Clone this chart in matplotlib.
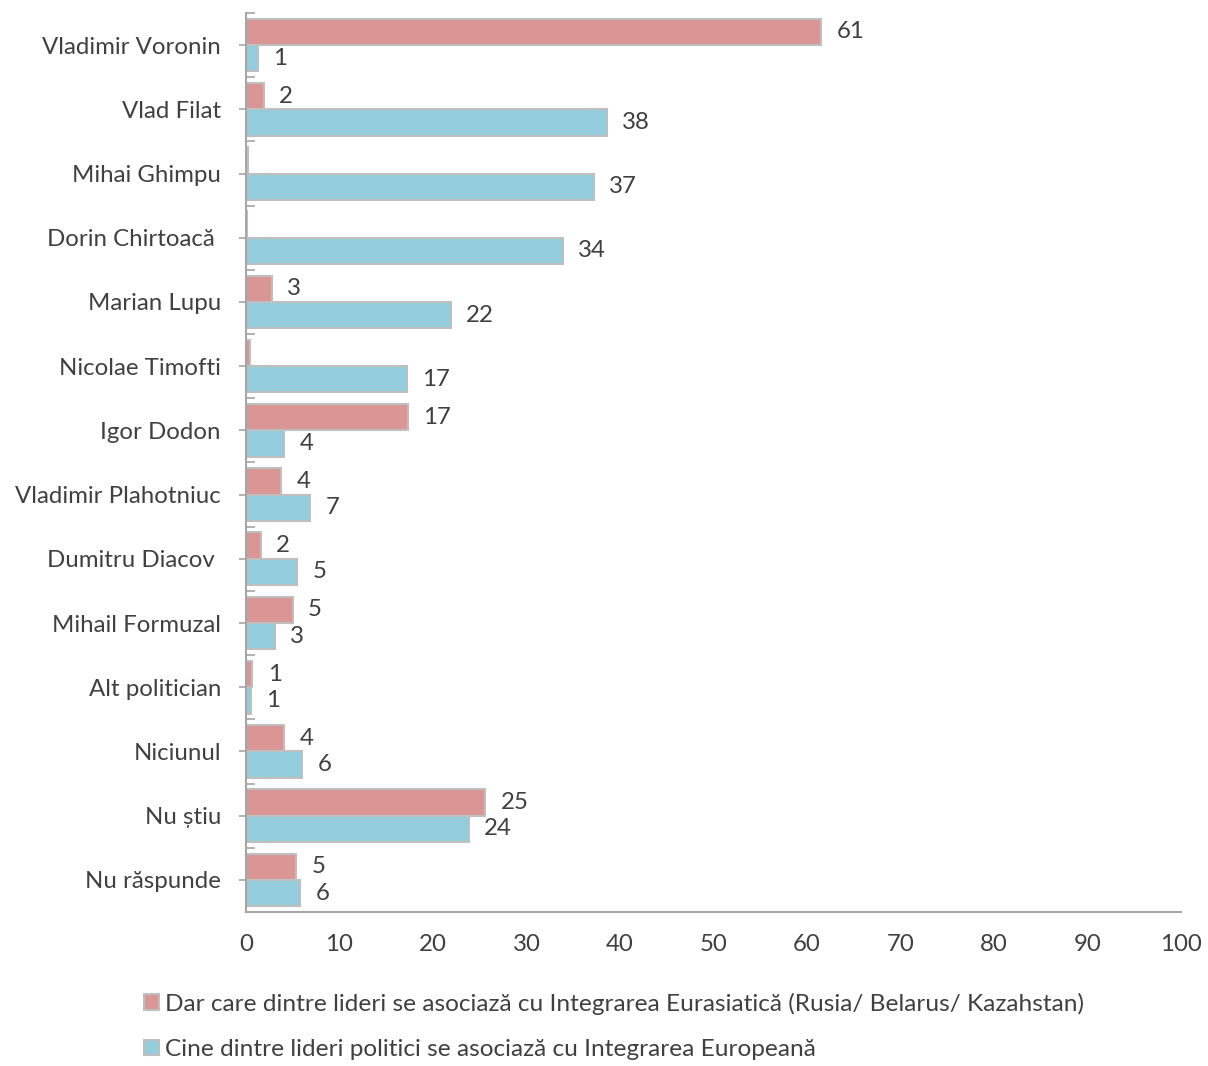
import matplotlib.pyplot as plt
import numpy as np

lideri = ["Vladimir Voronin", "Vlad Filat", "Mihai Ghimpu", "Dorin Chirtoacă ",
          "Marian Lupu", "Nicolae Timofti", "Igor Dodon", "Vladimir Plahotniuc",
          "Dumitru Diacov ", "Mihail Formuzal", "Alt politician", "Niciunul",
          "Nu știu", "Nu răspunde"]
eurasia = [61.5, 1.9, 0.2, 0.1, 2.8, 0.4, 17.3, 3.8, 1.6, 5.0, 0.7, 4.1, 25.6, 5.4]
europa = [1.3, 38.6, 37.2, 33.9, 21.9, 17.2, 4.1, 6.9, 5.5, 3.1, 0.5, 6.0, 23.8, 5.8]
etichete_eurasia = ["61", "2", "", "", "3", "", "17", "4", "2", "5", "1", "4", "25", "5"]
etichete_europa = ["1", "38", "37", "34", "22", "17", "4", "7", "5", "3", "1", "6", "24", "6"]
serii = ["Dar care dintre lideri se asociază cu Integrarea Eurasiatică (Rusia/ Belarus/ Kazahstan)",
         "Cine dintre lideri politici se asociază cu Integrarea Europeană"]

ROSU = "#D99694"
ALBASTRU = "#93CDDD"
MARGINE = "#BFBFBF"
TEXT = "#404040"
AX = "#A6A6A6"
FS = 17.3

plt.rcParams["font.family"] = ["Lato", "DejaVu Sans"]

fig = plt.figure(figsize=(12.08, 10.66), dpi=100)
ax = fig.add_axes([0.2036, 0.1445, 0.7741, 0.8433])

y = np.arange(len(lideri))
h = 0.41
b1 = ax.barh(y - h / 2, eurasia, height=h, color=ROSU, edgecolor=MARGINE, linewidth=1.5, label=serii[0])
b2 = ax.barh(y + h / 2, europa, height=h, color=ALBASTRU, edgecolor=MARGINE, linewidth=1.5, label=serii[1])
ax.bar_label(b1, labels=etichete_eurasia, padding=11, fontsize=FS, color=TEXT)
ax.bar_label(b2, labels=etichete_europa, padding=11, fontsize=FS, color=TEXT)

ax.set_xlim(0, 100)
ax.set_ylim(len(lideri) - 0.5, -0.5)
ax.set_xticks(np.arange(0, 101, 10))
ax.set_yticks(y)
ax.set_yticklabels(lideri)
ax.set_yticks(np.arange(len(lideri) + 1) - 0.5, minor=True)
ax.tick_params(axis="y", which="major", direction="out", length=5, width=1.2, color=AX,
               labelsize=FS, labelcolor=TEXT, pad=13)
ax.tick_params(axis="y", which="minor", direction="in", length=6.5, width=1.2, color=AX)
ax.tick_params(axis="x", length=0, labelsize=FS, labelcolor=TEXT, pad=16)

for s in ["top", "right"]:
    ax.spines[s].set_visible(False)
for s in ["left", "bottom"]:
    ax.spines[s].set_color(AX)
    ax.spines[s].set_linewidth(1.5)

fig.legend(handles=[b1, b2], loc="upper left", bbox_to_anchor=(0.111, 0.078),
           frameon=False, fontsize=17.6, labelcolor=TEXT, handlelength=0.6, handleheight=0.6,
           handletextpad=0.25, labelspacing=1.0, borderaxespad=0)

plt.savefig("out.png", dpi=100)
plt.close()
